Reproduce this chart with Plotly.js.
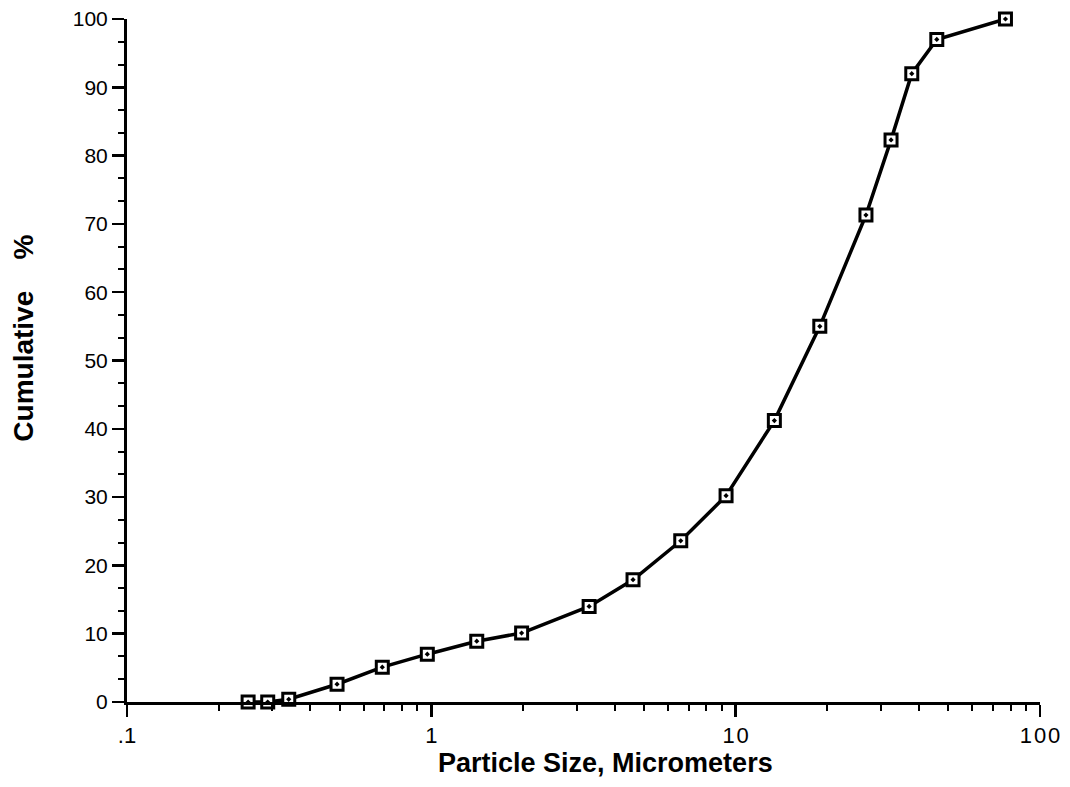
<!DOCTYPE html>
<html>
<head>
<meta charset="utf-8">
<script src="https://cdn.plot.ly/plotly-3.0.1.min.js"></script>
<style>html,body{margin:0;padding:0;background:#fff;}#chart{width:1070px;height:787px;}</style>
</head>
<body>
<div id="chart"></div>
<script>
// Particle size (micrometers) and cumulative percent
const particleSize = [0.25, 0.29, 0.34, 0.49, 0.69, 0.97, 1.41, 1.98, 3.3, 4.6, 6.6, 9.3, 13.4, 18.9, 26.8, 32.4, 37.9, 45.8, 77];
const cumulativePct = [0, 0, 0.4, 2.6, 5.1, 7.0, 8.9, 10.1, 14.0, 17.9, 23.6, 30.2, 41.2, 55.0, 71.3, 82.3, 92.0, 97.0, 100];
const xTickVals = [0.1, 1, 10, 100];
const xTickText = ['.1', '1', '1\u200a0', '1\u200a0\u200a0'];
const yTickVals = [0, 10, 20, 30, 40, 50, 60, 70, 80, 90, 100];
const xTitle = 'Particle Size, Micrometers';
const yTitle = 'Cumulative\u00a0\u00a0\u00a0\u00a0%';

const font = 'Liberation Sans, Arial, Helvetica, sans-serif';

const trace = {
  x: particleSize,
  y: cumulativePct,
  type: 'scatter',
  mode: 'lines+markers',
  line: {color: 'black', width: 3.5},
  marker: {symbol: 'square-dot', size: 12, color: 'white', line: {color: 'black', width: 3}},
  cliponaxis: false,
  hoverinfo: 'x+y'
};

const layout = {
  width: 1070, height: 787,
  margin: {l: 127, r: 30, t: 19, b: 85},
  paper_bgcolor: 'white', plot_bgcolor: 'white',
  showlegend: false,
  font: {family: font, color: 'black', size: 18},
  xaxis: {
    type: 'log',
    range: [-1, 2],
    tickvals: xTickVals,
    ticktext: xTickText,
    ticks: 'outside', ticklen: 12, tickwidth: 2.5, tickcolor: 'black',
    showline: true, linecolor: 'black', linewidth: 3,
    showgrid: false, zeroline: false,
    tickfont: {size: 22, family: font},
    minor: {ticks: 'outside', ticklen: 6, tickwidth: 2, tickcolor: 'black', dtick: 'D1', showgrid: false}
  },
  yaxis: {
    range: [0, 100],
    tickvals: yTickVals,
    ticks: 'outside', ticklen: 12, tickwidth: 2.5, tickcolor: 'black',
    showline: true, linecolor: 'black', linewidth: 3,
    showgrid: false, zeroline: false,
    tickfont: {size: 21, family: font},
    minor: {ticks: 'outside', ticklen: 6, tickwidth: 2, tickcolor: 'black', dtick: 10/3, tick0: 0, showgrid: false}
  },
  annotations: [{
    text: '<b>' + yTitle + '</b>',
    textangle: -90,
    xref: 'paper', yref: 'paper',
    x: -0.1128, y: 0.532,
    xanchor: 'center', yanchor: 'middle',
    showarrow: false,
    font: {size: 28, family: font, color: 'black'}
  }, {
    text: '<b>' + xTitle + '</b>',
    xref: 'paper', yref: 'paper',
    x: 0.524, y: -0.0893,
    xanchor: 'center', yanchor: 'middle',
    showarrow: false,
    font: {size: 27, family: font, color: 'black'}
  }]
};

Plotly.newPlot('chart', [trace], layout, {displayModeBar: false, staticPlot: true});
</script>
</body>
</html>
